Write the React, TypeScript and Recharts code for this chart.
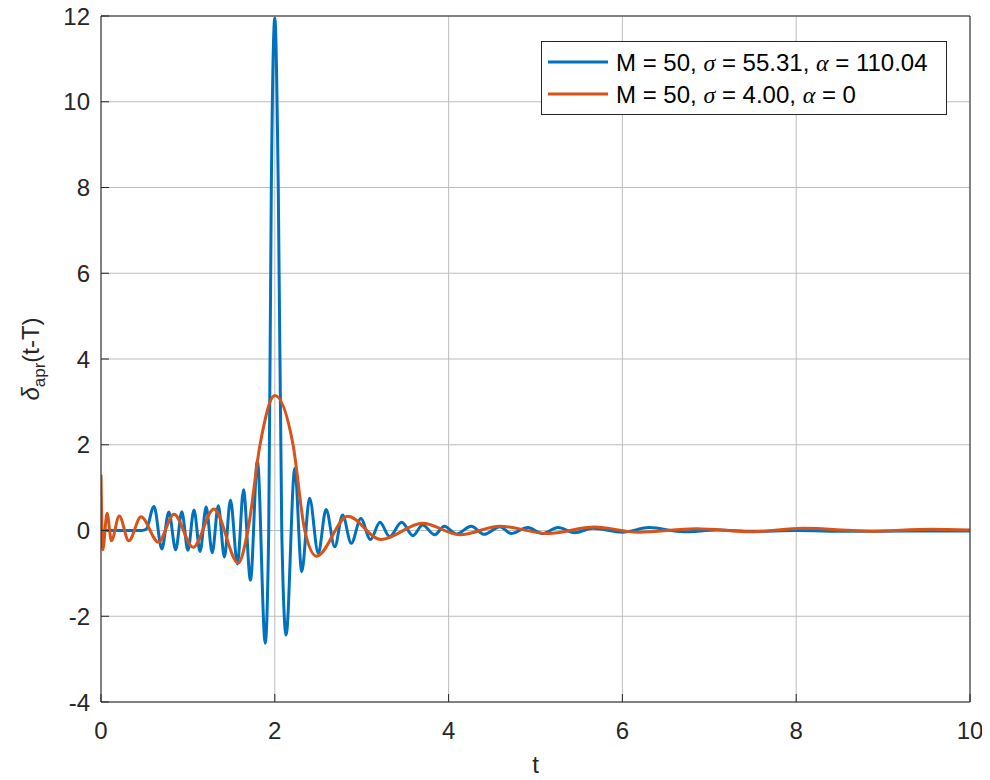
import React from 'react';
import { ComposedChart, Line, XAxis, YAxis, CartesianGrid, Legend } from 'recharts';

// ---- data ----
const blueT = [
  0, 0.47, 0.52, 0.61, 0.70, 0.78, 0.86, 0.93, 1.0, 1.07, 1.14, 1.21, 1.28, 1.35, 1.42, 1.49,
  1.57, 1.64, 1.72, 1.80, 1.89, 1.93, 1.96, 2.0, 2.04, 2.08, 2.13, 2.23, 2.31, 2.40, 2.50,
  2.59, 2.69, 2.78, 2.88, 2.99, 3.10, 3.21, 3.32, 3.46, 3.59, 3.70, 3.84, 3.95, 4.09, 4.26,
  4.41, 4.59, 4.72, 4.91, 5.08, 5.26, 5.45, 5.66, 6.0, 6.31, 6.7, 7.1, 7.5, 8.0, 8.6, 9.3, 10,
];
const blueV = [
  0, 0, 0.03, 0.56, -0.43, 0.43, -0.45, 0.44, -0.46, 0.48, -0.49, 0.55, -0.52, 0.58, -0.62, 0.71,
  -0.78, 0.95, -1.16, 1.63, -2.63, 0, 8.0, 11.95, 8.0, 0, -2.44, 1.45, -0.96, 0.75, -0.53,
  0.49, -0.38, 0.36, -0.30, 0.28, -0.21, 0.19, -0.14, 0.19, -0.12, 0.13, -0.10, 0.10, -0.08, 0.10,
  -0.09, 0.09, -0.07, 0.07, -0.07, 0.07, -0.05, 0.05, -0.04, 0.07, -0.03, 0.01, -0.02, 0.0, -0.02, -0.01, -0.01,
];
const orangeT = [
  0, 0.02, 0.07, 0.12, 0.21, 0.32, 0.46, 0.66, 0.84, 1.06, 1.30, 1.58, 1.69, 1.83, 2.0, 2.21,
  2.345, 2.48, 2.84, 3.22, 3.70, 4.13, 4.59, 5.14, 5.68, 6.18, 6.85, 7.5, 8.08, 8.85, 9.55, 10,
];
const orangeV = [
  1.3, -0.45, 0.40, -0.24, 0.34, -0.24, 0.32, -0.27, 0.38, -0.39, 0.50, -0.76, 0, 2.0, 3.15, 2.0,
  0, -0.60, 0.33, -0.21, 0.17, -0.10, 0.10, -0.07, 0.08, -0.04, 0.04, -0.03, 0.05, -0.015, 0.03, 0.01,
];
const xTicks = [0, 2, 4, 6, 8, 10];
const yTicks = [-4, -2, 0, 2, 4, 6, 8, 10, 12];
const seriesNames = ['M = 50, σ = 55.31, α = 110.04', 'M = 50, σ = 4.00, α = 0'];
const seriesColors = ['#0072BD', '#D95319'];

const blueData = blueT.map((t, i) => ({ t, v: blueV[i] }));
const orangeData = orangeT.map((t, i) => ({ t, v: orangeV[i] }));

const FONT = '"Liberation Sans", Arial, Helvetica, sans-serif';
const AXIS = '#262626';
const GRID = '#bdbdbd';
const LW = 3;

const renderName = (name: string) =>
  name.split(/([σα])/).map((part, i) =>
    part === 'σ' || part === 'α' ? (
      <tspan key={i} fontStyle="italic" fontFamily='"Liberation Serif", "DejaVu Serif", serif'>
        {part}
      </tspan>
    ) : (
      <tspan key={i}>{part}</tspan>
    )
  );

const renderLegend = (props: any) => {
  const payload = [...(props.payload || [])].sort(
    (a: any, b: any) => seriesNames.indexOf(String(a.value)) - seriesNames.indexOf(String(b.value))
  );
  return (
    <svg width={406} height={74} style={{ display: 'block' }}>
      <rect x={0.5} y={0.5} width={405} height={73} fill="#ffffff" stroke={AXIS} strokeWidth={1} />
      {payload.map((p: any, i: number) => {
        const y = 21 + i * 32;
        return (
          <g key={i}>
            <line x1={7} x2={67} y1={y} y2={y} stroke={p.color} strokeWidth={LW} />
            <text x={75} y={y + 9} fontSize={24} fontFamily={FONT} fill="#000000">
              {renderName(String(p.value))}
            </text>
          </g>
        );
      })}
    </svg>
  );
};

const renderYLabel = (props: any) => {
  const vb = props.viewBox || {};
  const cx = vb.x + 34;
  const cy = vb.y + vb.height / 2;
  return (
    <text
      transform={`translate(${cx},${cy}) rotate(-90)`}
      textAnchor="middle"
      fontSize={24}
      fontFamily={FONT}
      fill={AXIS}
    >
      <tspan fontStyle="italic">δ</tspan>
      <tspan fontSize={17} dy={6}>apr</tspan>
      <tspan dy={-6}>(t-T)</tspan>
    </text>
  );
};

const renderXLabel = (props: any) => {
  const vb = props.viewBox || {};
  return (
    <text x={vb.x + vb.width / 2} y={vb.y + 71} textAnchor="middle" fontSize={24} fontFamily={FONT} fill={AXIS}>
      t
    </text>
  );
};

export default function App() {
  return (
    <div style={{ marginTop: -8, marginLeft: -8, width: 990, height: 780, background: '#ffffff' }}>
      <ComposedChart width={990} height={780} margin={{ top: 15, right: 19, left: 5, bottom: 38 }}>
        <CartesianGrid stroke={GRID} strokeWidth={1} xAxisId="bottom" yAxisId="left" />
        <XAxis
          xAxisId="bottom"
          type="number"
          dataKey="t"
          domain={[0, 10]}
          ticks={xTicks}
          allowDataOverflow
          height={40}
          tickSize={-8}
          tickMargin={28}
          axisLine={{ stroke: AXIS, strokeWidth: 1 }}
          tickLine={{ stroke: AXIS }}
          tick={{ fill: AXIS, fontSize: 24, fontFamily: FONT }}
          label={{ content: renderXLabel }}
        />
        <XAxis
          xAxisId="top"
          orientation="top"
          type="number"
          dataKey="t"
          domain={[0, 10]}
          ticks={xTicks}
          allowDataOverflow
          height={1}
          tickSize={-8}
          axisLine={{ stroke: AXIS, strokeWidth: 1 }}
          tickLine={{ stroke: AXIS }}
          tick={false}
        />
        <YAxis
          yAxisId="left"
          type="number"
          domain={[-4, 12]}
          ticks={yTicks}
          allowDataOverflow
          width={96}
          tickSize={-8}
          tickMargin={19}
          axisLine={{ stroke: AXIS, strokeWidth: 1 }}
          tickLine={{ stroke: AXIS }}
          tick={{ fill: AXIS, fontSize: 24, fontFamily: FONT }}
          label={{ content: renderYLabel }}
        />
        <YAxis
          yAxisId="right"
          orientation="right"
          type="number"
          domain={[-4, 12]}
          ticks={yTicks}
          allowDataOverflow
          width={1}
          tickSize={-8}
          axisLine={{ stroke: AXIS, strokeWidth: 1 }}
          tickLine={{ stroke: AXIS }}
          tick={false}
        />
        <Line
          xAxisId="bottom"
          yAxisId="left"
          data={blueData}
          dataKey="v"
          name={seriesNames[0]}
          type="monotone"
          stroke={seriesColors[0]}
          strokeWidth={LW}
          dot={false}
          activeDot={false}
          isAnimationActive={false}
        />
        <Line
          xAxisId="bottom"
          yAxisId="left"
          data={orangeData}
          dataKey="v"
          name={seriesNames[1]}
          type="monotone"
          stroke={seriesColors[1]}
          strokeWidth={LW}
          dot={false}
          activeDot={false}
          isAnimationActive={false}
        />
        <Legend
          layout="vertical"
          align="center"
          verticalAlign="middle"
          content={renderLegend}
          wrapperStyle={{ left: 541, top: 41, width: 406, height: 74 }}
        />
      </ComposedChart>
    </div>
  );
}
